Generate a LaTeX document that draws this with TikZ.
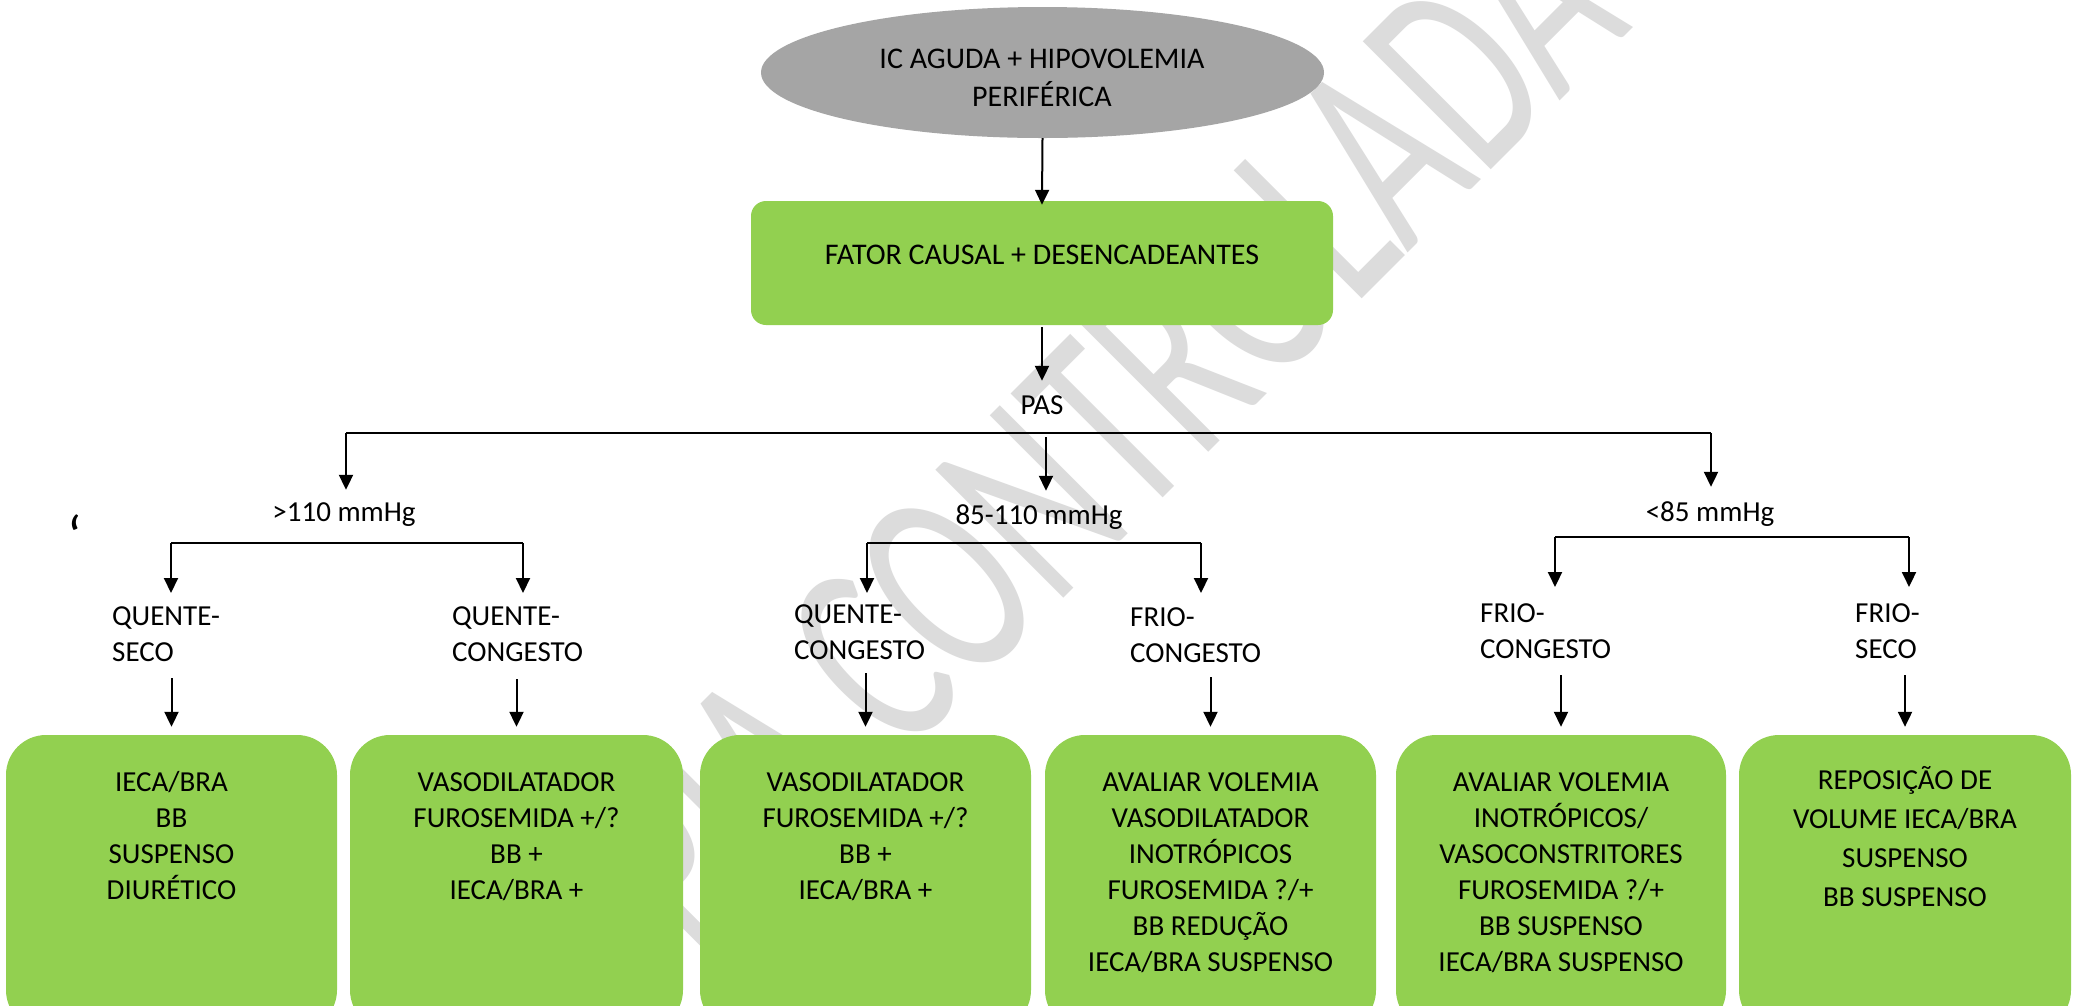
\documentclass[tikz,border=0pt]{standalone}
\usepackage{fontspec}
\setmainfont{Carlito}
\usetikzlibrary{arrows.meta,shapes.geometric}
\definecolor{gfill}{HTML}{92D050}
\definecolor{efill}{HTML}{A5A5A5}
\definecolor{wmcol}{HTML}{DCDCDC}
\newcommand{\ls}{\rule[-0.3\baselineskip]{0pt}{\baselineskip}}
\begin{document}
\begin{tikzpicture}[x=1pt,y=-1pt,
  arr/.style={line width=2pt,-{Triangle[length=15pt,width=14pt]}},
  ln/.style={line width=2pt},
  txt/.style={font=\fontsize{29}{36}\selectfont,inner sep=0pt},
  two/.style={txt,align=left,anchor=north west},
  btxt/.style={txt,align=center,anchor=north},
  gbox/.style={fill=gfill,rounded corners=40pt,inner sep=0pt,minimum height=295pt},
  wm/.style={text=wmcol,font=\fontsize{182}{182}\selectfont,inner sep=0pt}
]
\clip (0,0) rectangle (2076,1005);
\fill[white] (0,0) rectangle (2076,1005);

% watermark
\node[wm,rotate=45,yscale=1.55,anchor=base east] (wmark) at (1634,27) {CÓPIA CONTROLADA};

% top
\node[ellipse,fill=efill,minimum width=563pt,minimum height=131pt,inner sep=0pt] (ell) at (1042.5,72.5) {};
\node[txt,align=center,anchor=north,font=\fontsize{30}{38}\selectfont] (ellt) at (1042,41.7) {\ls IC AGUDA + HIPOVOLEMIA\\\ls PERIFÉRICA};
\node[fill=gfill,rounded corners=15pt,minimum width=582pt,minimum height=124pt,inner sep=0pt] (box0) at (1042,263) {};
\node[txt,font=\fontsize{30}{36}\selectfont] (box0t) at (1042,257.6) {\ls FATOR CAUSAL + DESENCADEANTES};
\draw[arr,shorten >=-4pt] (ell.south) -- (box0.north);

\node[txt] (pas) at (1042,407) {\ls PAS};
\draw[arr,shorten <=2pt,shorten >=8pt] (box0.south) -- (box0.south |- pas.north);

% level 1
\node[txt] (p110) at (344,514) {\ls >110 mmHg};
\node[txt] (pmid) at (1039,517) {\ls 85-110 mmHg};
\node[txt] (p85) at (1710,514) {\ls <85 mmHg};
\node[inner sep=0pt,font=\fontsize{58}{58}\selectfont,anchor=base] (tick) at (75,556) {‘};
\coordinate (hL) at (346,433);
\coordinate (hR) at (1711,433);
\coordinate (hM) at (1046,437);
\draw[ln] (hL) -- (hR);
\draw[arr,shorten >=6pt] (hL) -- (hL |- p110.north);
\draw[arr,shorten >=8pt] (hM) -- (hM |- pmid.north);
\draw[arr,shorten >=9pt] (hR) -- (hR |- p85.north);

% level 2 lines
\coordinate (s1L) at (171,543); \coordinate (s1R) at (523,543);
\coordinate (s2L) at (867,543); \coordinate (s2R) at (1201,543);
\coordinate (s3L) at (1555,537); \coordinate (s3R) at (1909,537);
\draw[ln] (s1L) -- (s1R);
\draw[ln] (s2L) -- (s2R);
\draw[ln] (s3L) -- (s3R);

\node[two] (qs1) at (112,600) {\ls QUENTE-\\\ls SECO};
\node[two] (qc1) at (452,600) {\ls QUENTE-\\\ls CONGESTO};
\node[two] (qc2) at (794,598) {\ls QUENTE-\\\ls CONGESTO};
\node[two] (fc1) at (1130,601) {\ls FRIO-\\\ls CONGESTO};
\node[two] (fc2) at (1480,597) {\ls FRIO-\\\ls CONGESTO};
\node[two] (fs) at (1855,597) {\ls FRIO-\\\ls SECO};

\draw[arr,shorten >=7pt] (s1L) -- (s1L |- qs1.north);
\draw[arr,shorten >=7pt] (s1R) -- (s1R |- qc1.north);
\draw[arr,shorten >=5pt] (s2L) -- (s2L |- qc2.north);
\draw[arr,shorten >=8pt] (s2R) -- (s2R |- fc1.north);
\draw[arr,shorten >=10pt] (s3L) -- (s3L |- fc2.north);
\draw[arr,shorten >=10pt] (s3R) -- (s3R |- fs.north);

% bottom boxes
\node[gbox,minimum width=331pt] (b1) at (171.5,882.5) {};
\node[gbox,minimum width=333pt] (b2) at (516.5,882.5) {};
\node[gbox,minimum width=331pt] (b3) at (865.5,882.5) {};
\node[gbox,minimum width=331pt] (b4) at (1210.5,882.5) {};
\node[gbox,minimum width=330pt] (b5) at (1561,882.5) {};
\node[gbox,minimum width=332pt] (b6) at (1905,882.5) {};

\node[btxt] (t1) at (171.5,766) {\ls IECA/BRA\\\ls BB\\\ls SUSPENSO\\\ls DIURÉTICO};
\node[btxt] (t2) at (516.5,766) {\ls VASODILATADOR\\\ls FUROSEMIDA +/?\\\ls BB +\\\ls IECA/BRA +};
\node[btxt] (t3) at (865.5,766) {\ls VASODILATADOR\\\ls FUROSEMIDA +/?\\\ls BB +\\\ls IECA/BRA +};
\node[btxt] (t4) at (1210.5,766) {\ls AVALIAR VOLEMIA\\\ls VASODILATADOR\\\ls INOTRÓPICOS\\\ls FUROSEMIDA ?/+\\\ls BB REDUÇÃO\\\ls IECA/BRA SUSPENSO};
\node[btxt] (t5) at (1561,766) {\ls AVALIAR VOLEMIA\\\ls INOTRÓPICOS/\\\ls VASOCONSTRITORES\\\ls FUROSEMIDA ?/+\\\ls BB SUSPENSO\\\ls IECA/BRA SUSPENSO};
\node[btxt,font=\fontsize{29}{39}\selectfont] (t6) at (1905,762) {\ls REPOSIÇÃO DE\\\ls VOLUME IECA/BRA\\\ls SUSPENSO\\\ls BB SUSPENSO};

\draw[arr,shorten <=6pt,shorten >=8pt] (qs1.south -| b1.north) -- (b1.north);
\draw[arr,shorten <=7pt,shorten >=8pt] (qc1.south -| b2.north) -- (b2.north);
\draw[arr,shorten <=3pt,shorten >=8pt] (qc2.south -| b3.north) -- (b3.north);
\draw[arr,shorten <=4pt,shorten >=8pt] (fc1.south -| b4.north) -- (b4.north);
\draw[arr,shorten <=6pt,shorten >=8pt] (fc2.south -| b5.north) -- (b5.north);
\draw[arr,shorten <=6pt,shorten >=8pt] (fs.south -| b6.north) -- (b6.north);
\end{tikzpicture}
\end{document}
